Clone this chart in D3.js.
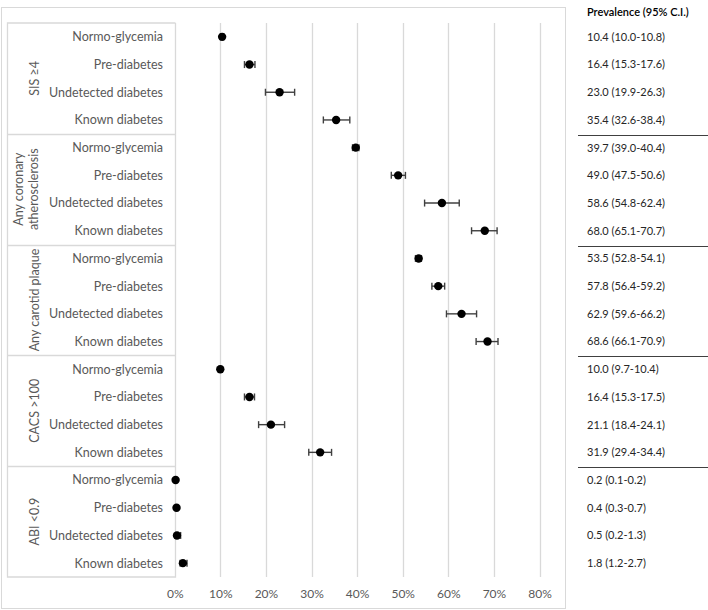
<!DOCTYPE html>
<html>
<head>
<meta charset="utf-8">
<script src="https://cdn.jsdelivr.net/npm/d3@7"></script>
<style>
  html, body { margin: 0; padding: 0; background: #fff; }
  svg { display: block; }
</style>
</head>
<body>
<div id="chart"></div>
<script>
const groups = ["SIS \u22654", "Any coronary atherosclerosis", "Any carotid plaque", "CACS >100", "ABI <0.9"];
const groupLines = [["SIS \u22654"], ["Any coronary", "atherosclerosis"], ["Any carotid plaque"], ["CACS >100"], ["ABI <0.9"]];
const categories = ["Normo-glycemia", "Pre-diabetes", "Undetected diabetes", "Known diabetes"];
const prevalence = [10.4, 16.4, 23.0, 35.4, 39.7, 49.0, 58.6, 68.0, 53.5, 57.8, 62.9, 68.6, 10.0, 16.4, 21.1, 31.9, 0.2, 0.4, 0.5, 1.8];
const lower = [10.0, 15.3, 19.9, 32.6, 39.0, 47.5, 54.8, 65.1, 52.8, 56.4, 59.6, 66.1, 9.7, 15.3, 18.4, 29.4, 0.1, 0.3, 0.2, 1.2];
const upper = [10.8, 17.6, 26.3, 38.4, 40.4, 50.6, 62.4, 70.7, 54.1, 59.2, 66.2, 70.9, 10.4, 17.5, 24.1, 34.4, 0.2, 0.7, 1.3, 2.7];
const xTicks = [0, 10, 20, 30, 40, 50, 60, 70, 80];
const tableHeader = "Prevalence (95% C.I.)";

const W = 708, H = 610;
const svg = d3.select("#chart").append("svg").attr("width", W).attr("height", H);

const plotTop = 23, plotBottom = 577;
const x = d3.scaleLinear().domain([0, 80]).range([174.7, 539.5]);

const rows = [];
groups.forEach((g, gi) => categories.forEach((c, ci) => {
  const i = gi * categories.length + ci;
  rows.push({ key: gi + "|" + ci, group: g, cat: c, v: prevalence[i], lo: lower[i], hi: upper[i] });
}));
const y = d3.scaleBand().domain(rows.map(r => r.key)).range([plotTop, plotBottom]);
const yg = d3.scaleBand().domain(groups).range([plotTop, plotBottom]);

const font = "Lato, 'Open Sans', sans-serif";
const labelColor = "#595959";

// outer border
svg.append("rect").attr("x", 1.5).attr("y", 7.5).attr("width", 564).attr("height", 601)
  .attr("fill", "none").attr("stroke", "#d9d9d9").attr("stroke-width", 1);

// gridlines
svg.append("g").selectAll("line").data(xTicks.filter(t => t > 0)).join("line")
  .attr("x1", d => Math.round(x(d)) + 0.5).attr("x2", d => Math.round(x(d)) + 0.5)
  .attr("y1", plotTop).attr("y2", plotBottom)
  .attr("stroke", "#d9d9d9").attr("stroke-width", 1.3);

// x axis labels
const xAxis = d3.axisBottom(x).tickValues(xTicks).tickFormat(d => d + "%").tickSize(0).tickPadding(0);
const gx = svg.append("g").attr("transform", `translate(0,${plotBottom + 10})`).call(xAxis);
gx.select(".domain").remove();
gx.selectAll("text").attr("font-family", font).attr("font-size", 12).attr("fill", labelColor).attr("dy", "0.95em");

// category label box
const boxL = 7.5, boxR = Math.round(x(0)) + 0.5;
svg.append("path")
  .attr("d", `M${boxR},${plotTop}H${boxL}V${plotBottom}H${boxR}V${plotTop}`)
  .attr("fill", "none").attr("stroke", "#d9d9d9").attr("stroke-width", 1.3);
svg.append("g").selectAll("line").data(groups.slice(1)).join("line")
  .attr("x1", boxL).attr("x2", boxR)
  .attr("y1", d => Math.round(yg(d)) + 0.5).attr("y2", d => Math.round(yg(d)) + 0.5)
  .attr("stroke", "#d9d9d9").attr("stroke-width", 1.3);

// category labels
svg.append("g").selectAll("text").data(rows).join("text")
  .attr("x", 163).attr("y", d => y(d.key) + y.bandwidth() / 2)
  .attr("dy", "0.35em").attr("text-anchor", "end")
  .attr("font-family", font).attr("font-size", 12.5).attr("fill", labelColor)
  .text(d => d.cat);

// group labels (rotated)
groups.forEach((g, gi) => {
  const lines = groupLines[gi];
  const cy = yg(g) + yg.bandwidth() / 2;
  lines.forEach((ln, li) => {
    const cx = lines.length === 1 ? 35 : (li === 0 ? 19 : 34);
    svg.append("text")
      .attr("transform", `translate(${cx},${cy}) rotate(-90)`)
      .attr("text-anchor", "middle").attr("dy", "0.35em")
      .attr("font-family", font).attr("font-size", 12.5).attr("fill", labelColor)
      .text(ln);
  });
});

// error bars
const eb = svg.append("g").attr("stroke", "#404040").attr("stroke-width", 1.4).attr("fill", "none");
rows.forEach(r => {
  const cy = y(r.key) + y.bandwidth() / 2;
  eb.append("line").attr("x1", x(r.lo)).attr("x2", x(r.hi)).attr("y1", cy).attr("y2", cy);
  eb.append("line").attr("x1", x(r.lo)).attr("x2", x(r.lo)).attr("y1", cy - 3.5).attr("y2", cy + 3.5);
  eb.append("line").attr("x1", x(r.hi)).attr("x2", x(r.hi)).attr("y1", cy - 3.5).attr("y2", cy + 3.5);
});

// points
svg.append("g").selectAll("circle").data(rows).join("circle")
  .attr("cx", d => x(d.v)).attr("cy", d => y(d.key) + y.bandwidth() / 2)
  .attr("r", 4.2).attr("fill", "#000");

// right table
svg.append("text").attr("x", 587).attr("y", 12).attr("dy", "0.35em")
  .attr("font-family", font).attr("font-size", 11).attr("font-weight", 600).attr("fill", "#000")
  .text(tableHeader);
svg.append("g").selectAll("text").data(rows).join("text")
  .attr("x", 587).attr("y", d => y(d.key) + y.bandwidth() / 2)
  .attr("dy", "0.35em")
  .attr("font-family", font).attr("font-size", 11).attr("fill", "#262626")
  .text(d => `${d.v.toFixed(1)} (${d.lo.toFixed(1)}-${d.hi.toFixed(1)})`);
svg.append("g").selectAll("line").data(groups.slice(1)).join("line")
  .attr("x1", 578).attr("x2", 708)
  .attr("y1", d => Math.round(yg(d)) + 1.5).attr("y2", d => Math.round(yg(d)) + 1.5)
  .attr("stroke", "#404040").attr("stroke-width", 1);
</script>
</body>
</html>
